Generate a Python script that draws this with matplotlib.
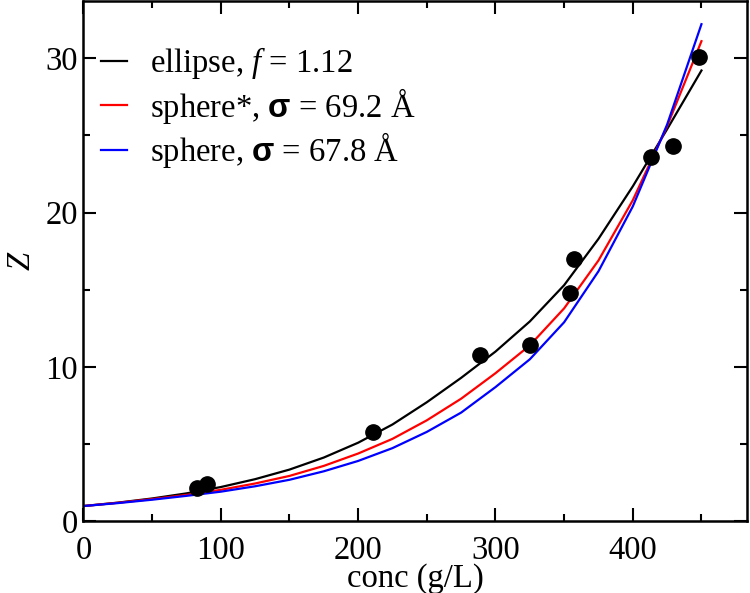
import numpy as np
import matplotlib.pyplot as plt
from matplotlib.ticker import MultipleLocator

plt.rcParams['font.family'] = ['Liberation Serif', 'DejaVu Serif']
plt.rcParams['mathtext.fontset'] = 'custom'
plt.rcParams['mathtext.rm'] = 'Liberation Serif'
plt.rcParams['mathtext.it'] = 'Liberation Serif:italic'
plt.rcParams['mathtext.bf'] = 'Liberation Sans:bold'

# measured data
conc_data = [82.5, 90, 211, 289, 325, 354, 357, 413, 429, 448.5]
z_data = [2.2, 2.4, 5.8, 10.8, 11.4, 14.8, 17.0, 23.6, 24.3, 30.1]

conc_fit = [0, 25, 50, 75, 100, 125, 150, 175, 200, 225,
            250, 275, 300, 325, 350, 375, 400, 425, 450]
z_ellipse = [1.00, 1.22, 1.49, 1.82, 2.23, 2.74, 3.36, 4.14, 5.10, 6.28,
             7.72, 9.30, 11.0, 12.95, 15.3, 18.3, 21.7, 25.4, 29.2]
z_sphere_star = [1.00, 1.21, 1.45, 1.72, 2.05, 2.46, 2.95, 3.60, 4.40, 5.35,
                 6.55, 7.95, 9.60, 11.4, 13.8, 16.9, 20.8, 25.6, 31.1]
z_sphere = [1.00, 1.19, 1.41, 1.66, 1.93, 2.28, 2.70, 3.25, 3.92, 4.75,
            5.80, 7.05, 8.70, 10.5, 12.9, 16.2, 20.4, 25.7, 32.2]

labels = [r'ellipse, $f$ = 1.12',
          r'sphere*, $\mathbf{\sigma}$ = 69.2 Å',
          r'sphere, $\mathbf{\sigma}$ = 67.8 Å']

fs = 23.5

fig = plt.figure(figsize=(7.5, 5.93), dpi=100)
ax = fig.add_axes([0.1113, 0.1206, 0.8844, 0.8777])

ax.plot(conc_fit, z_ellipse, color='black', lw=1.6, label=labels[0])
ax.plot(conc_fit, z_sphere_star, color='red', lw=1.6, label=labels[1])
ax.plot(conc_fit, z_sphere, color='blue', lw=1.6, label=labels[2])
ax.plot(conc_data, z_data, 'o', color='black', ms=11, zorder=3)

ax.set_xlim(0, 483)
ax.set_ylim(0, 33.7)
ax.xaxis.set_major_locator(MultipleLocator(100))
ax.xaxis.set_minor_locator(MultipleLocator(50))
ax.yaxis.set_major_locator(MultipleLocator(10))
ax.yaxis.set_minor_locator(MultipleLocator(5))
ax.tick_params(which='both', direction='in', top=True, right=True,
               width=1.5, labelsize=fs)
ax.tick_params(which='major', length=9.5)
ax.tick_params(which='minor', length=5)
ax.tick_params(axis='x', which='major', pad=10)
ax.tick_params(axis='y', which='major', pad=4)
for s in ax.spines.values():
    s.set_linewidth(1.8)

ax.set_xlabel('conc (g/L)', fontsize=fs, labelpad=-2)
ax.set_ylabel('Z', fontsize=fs, style='italic', labelpad=6)

ax.legend(loc='upper left', bbox_to_anchor=(0.027, 0.915), frameon=False,
          fontsize=fs, handlelength=0.8, handletextpad=0.68,
          labelspacing=0.14, borderaxespad=0, borderpad=0)

plt.savefig('out.png', dpi=100)
